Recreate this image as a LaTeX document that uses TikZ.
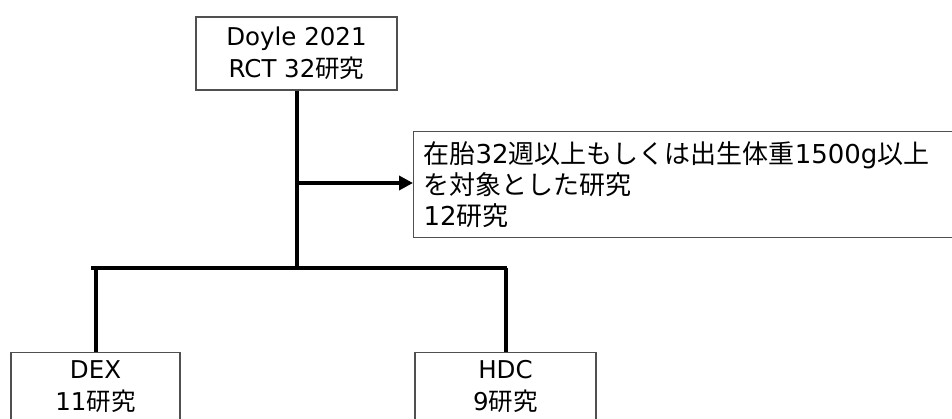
\documentclass[tikz,border=0pt]{standalone}
\usepackage{fontspec}
\setmainfont{DejaVu Sans}
\newfontfamily\jpfont{Noto Sans CJK JP}
\newcommand\jp[1]{{\jpfont #1}}
\usetikzlibrary{arrows.meta}
\definecolor{boxline}{RGB}{80,80,80}
\tikzset{
  box/.style={draw=boxline, line width=1.4pt, rectangle, inner sep=0pt, align=center,
    font=\fontsize{24.5}{32}\selectfont},
  sidebox/.style={draw=boxline, line width=1.4pt, rectangle, inner ysep=0pt, inner xsep=10pt,
    text width=540pt, align=left, font=\fontsize{26}{31}\selectfont},
  thick line/.style={line width=4pt, black},
}
\begin{document}
\begin{tikzpicture}[x=1pt, y=-1pt]
\useasboundingbox (0,0) rectangle (952,418);
\clip (0,0) rectangle (952,418);
\fill[white] (0,0) rectangle (952,418);
\node[box, minimum width=201pt, minimum height=73pt] (top) at (296.5,53.5)
  {Doyle 2021\\RCT 32\jp{研究}};
\node[sidebox, anchor=north west, minimum height=106pt] (side) at (413,131)
  {\jp{在胎}32\jp{週以上もしくは出生体重}1500g\jp{以上}\\\jp{を対象とした研究}\\12\jp{研究}};
\node[box, anchor=north, minimum width=169pt, minimum height=68pt] (dex) at (95.5,352)
  {DEX\\11\jp{研究}};
\node[box, anchor=north, minimum width=181pt, minimum height=68pt] (hdc) at (505.5,352)
  {HDC\\9\jp{研究}};
\coordinate (split) at (296.5,268);
\coordinate (arrowstart) at (296.5,183);
\coordinate (barleft) at (91,268);
\coordinate (barright) at (507,268);
\draw[thick line] (top.south) -- (split);
\draw[thick line] (barleft) -- (barright);
\draw[thick line] (dex.north |- split) -- (dex.north);
\draw[thick line] (hdc.north |- split) -- (hdc.north);
\draw[thick line, -{Triangle[length=14pt,width=14pt]}] (arrowstart) -- (side.west |- arrowstart);
\end{tikzpicture}
\end{document}
